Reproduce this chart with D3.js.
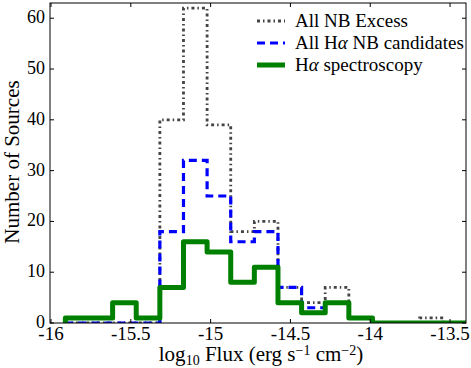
<html>
<head>
<style>
  body { margin: 0; background: #fff; }
  svg text { font-family: "Liberation Serif", "DejaVu Serif", serif; fill: #000; }
</style>
</head>
<body>
<svg id="chart"></svg>
<script src="https://cdn.jsdelivr.net/npm/d3@7"></script>
<script>
// bin edges (log10 flux) and counts per bin
let binEdges = [-15.910, -15.762, -15.614, -15.466, -15.318, -15.170, -15.022, -14.874, -14.726,
                -14.578, -14.430, -14.282, -14.134, -13.986, -13.838, -13.690, -13.542, -13.394]
let nbExcess   = [0, 0, 0, 0, 40, 62, 39, 18, 20, 7, 4, 7, 1, 0, 0, 1, 0]
let haCands    = [0, 0, 0, 0, 18, 32, 25, 16, 18, 7, 3, 4, 1, 0, 0, 0, 0]
let haSpectro  = [1, 1, 4, 1, 7, 16, 14, 8, 11, 4, 2, 4, 1, 0, 0, 0, 0]
let xTicks = [-16, -15.5, -15, -14.5, -14, -13.5]
let yTicks = [0, 10, 20, 30, 40, 50, 60]

let width = 471, height = 368
let plot = { left: 50, right: 466, top: 3, bottom: 323 }

let svg = d3.select("#chart").attr("width", width).attr("height", height)

let x = d3.scaleLinear().domain([-16, -13.4]).range([51, 466])
let y = d3.scaleLinear().domain([0, 63]).range([plot.bottom, plot.top])

// step outline like matplotlib histtype='step'
function stepPoints(counts) {
    let pts = [[binEdges[0], 0]]
    counts.forEach((c, i) => {
        pts.push([binEdges[i], c])
        pts.push([binEdges[i + 1], c])
    })
    pts.push([binEdges[binEdges.length - 1], 0])
    return pts
}
let line = d3.line().x(d => x(d[0])).y(d => y(d[1]))

let series = [
    { name: "excess", counts: nbExcess, color: "#444444", width: 2.8, dash: "3,3,1.5,3" },
    { name: "cands", counts: haCands, color: "#0000ff", width: 3.2, dash: "8,5" },
    { name: "spec", counts: haSpectro, color: "#008000", width: 5, dash: null }
]

svg.append("defs").append("clipPath").attr("id", "clip")
    .append("rect").attr("x", plot.left).attr("y", plot.top)
    .attr("width", plot.right - plot.left).attr("height", plot.bottom - plot.top)

let g = svg.append("g").attr("clip-path", "url(#clip)")
series.forEach(s => {
    g.append("path")
        .attr("d", line(stepPoints(s.counts)))
        .attr("fill", "none")
        .attr("stroke", s.color)
        .attr("stroke-width", s.width)
        .attr("stroke-dasharray", s.dash)
        .attr("stroke-linejoin", s.dash ? "miter" : "round")
})

// frame
svg.append("rect")
    .attr("x", plot.left).attr("y", plot.top)
    .attr("width", plot.right - plot.left).attr("height", plot.bottom - plot.top)
    .attr("fill", "none").attr("stroke", "#000").attr("stroke-width", 1)

// ticks (inward on all four sides)
let tickLen = 4
let font = "'Liberation Serif', 'DejaVu Serif', serif"
xTicks.forEach(t => {
    svg.append("line").attr("x1", x(t)).attr("x2", x(t)).attr("y1", plot.bottom).attr("y2", plot.bottom - tickLen).attr("stroke", "#000")
    svg.append("line").attr("x1", x(t)).attr("x2", x(t)).attr("y1", plot.top).attr("y2", plot.top + tickLen).attr("stroke", "#000")
    svg.append("text").attr("x", x(t)).attr("y", 340).attr("text-anchor", "middle")
        .attr("font-family", font).style("font-size", "19px").text(t)
})
yTicks.forEach(t => {
    svg.append("line").attr("x1", plot.left).attr("x2", plot.left + tickLen).attr("y1", y(t)).attr("y2", y(t)).attr("stroke", "#000")
    svg.append("line").attr("x1", plot.right).attr("x2", plot.right - tickLen).attr("y1", y(t)).attr("y2", y(t)).attr("stroke", "#000")
    svg.append("text").attr("x", 45).attr("y", y(t) + 5).attr("text-anchor", "end")
        .attr("font-family", font).style("font-size", "18px").text(t)
})

// axis labels
let xl = svg.append("text").attr("x", 261).attr("y", 361).attr("text-anchor", "middle")
    .attr("font-family", font).style("font-size", "21px")
xl.append("tspan").text("log")
xl.append("tspan").attr("baseline-shift", "-25%").style("font-size", "14px").text("10")
xl.append("tspan").text(" Flux (erg s")
xl.append("tspan").attr("baseline-shift", "45%").style("font-size", "14px").text("\u22121")
xl.append("tspan").text(" cm")
xl.append("tspan").attr("baseline-shift", "45%").style("font-size", "14px").text("\u22122")
xl.append("tspan").text(")")

svg.append("text")
    .attr("transform", `translate(19,162) rotate(-90)`)
    .attr("text-anchor", "middle").attr("font-family", font).style("font-size", "21px")
    .text("Number of Sources")

// legend
let legend = svg.append("g")
let labels = [
    [{ t: "All NB Excess" }],
    [{ t: "All H" }, { t: "\u03b1", i: true }, { t: " NB candidates" }],
    [{ t: "H" }, { t: "\u03b1", i: true }, { t: " spectroscopy" }]
]
series.forEach((s, i) => {
    let ly = 21 + i * 22
    legend.append("line").attr("x1", 257).attr("x2", 285).attr("y1", ly).attr("y2", ly)
        .attr("stroke", s.color).attr("stroke-width", s.width).attr("stroke-dasharray", s.dash)
    let tx = legend.append("text").attr("x", 295).attr("y", ly).attr("dy", "0.33em")
        .attr("font-family", font).style("font-size", "19px")
    labels[i].forEach(p => tx.append("tspan").style("font-style", p.i ? "italic" : "normal").text(p.t))
})
</script>
</body>
</html>
